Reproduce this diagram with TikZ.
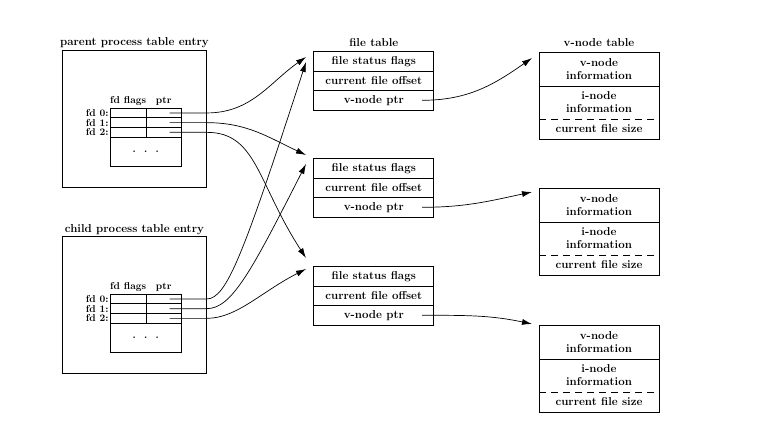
\documentclass[tikz,border=0pt]{standalone}
\usetikzlibrary{matrix,positioning,arrows.meta}

\begin{document}
\begin{tikzpicture}[x=1pt, y=1pt, line width=0.8pt,
      font=\fontsize{11.5}{13}\selectfont\bfseries,
      fdfont/.style={font=\fontsize{10}{11}\selectfont\bfseries},
      title/.style={anchor=base, inner sep=0pt},
      procbox/.style={draw, anchor=north west, minimum width=144pt, minimum height=137pt},
      fdtable/.style={matrix of nodes, nodes in empty cells, ampersand replacement=\&,
          anchor=south east, inner sep=0pt,
          row sep=-\pgflinewidth, column sep=-\pgflinewidth,
          nodes={draw, fdfont, anchor=center, minimum height=9.7pt, inner sep=0pt, outer sep=0pt},
          row 1/.style={nodes={draw=none, minimum height=14pt}},
          column 1/.style={nodes={draw=none, anchor=east, inner xsep=2pt}},
          column 2/.style={nodes={minimum width=36pt}},
          column 3/.style={nodes={minimum width=35pt}}},
      restbox/.style={draw, fdfont, anchor=north west, outer sep=0pt,
          minimum width=71pt, minimum height=29pt},
      filetable/.style={matrix of nodes, anchor=north west, inner sep=0pt,
          row sep=-\pgflinewidth,
          nodes={draw, anchor=center, minimum width=120pt, minimum height=19.4pt, inner sep=0pt}},
      vcell/.style={minimum width=120pt, inner sep=0pt, outer sep=0pt, align=center},
      ptr/.style={-{Latex[length=10pt,width=6pt]}, line width=0.7pt}]

  \useasboundingbox (0,0) rectangle (764,424);

  % process table entries
  \foreach \proc/\ytop in {parent/374, child/188} {
    \node[procbox] (\proc) at (62,\ytop) {};
    \node[title] at ([yshift=4pt]\proc.north) {\proc\ process table entry};
    \matrix (\proc fd) [fdtable] at ([shift={(120,-88)}]\proc.north west) {
        \& fd flags \& ptr \\
        fd 0: \& \& \\
        fd 1: \& \& \\
        fd 2: \& \& \\
    };
    \node[restbox] (\proc rest) at (\proc fd-4-2.south west) {.\hspace{8.3pt}.\hspace{8.3pt}.};
  }

  % file table
  \foreach \i/\ytop/\pdy/\cdy in {1/373/-6/-11, 2/266/3/-6, 3/158/8/-3} {
    \matrix (ft\i) [filetable] at (313,\ytop) {
        file status flags \\
        current file offset \\
        v-node ptr \\
    };
    \coordinate (ft\i p) at ([shift={(-7,\pdy)}]ft\i.north west);
    \coordinate (ft\i c) at ([shift={(-7,\cdy)}]ft\i.north west);
  }
  \node[title] at ([yshift=4pt]ft1.north) {file table};

  % v-node table
  \foreach \i/\ytop/\dy in {1/372/-6, 2/236/-4, 3/99/1} {
    \node[vcell, anchor=north west, minimum height=34pt] (vn\i a) at (539,\ytop) {v-node\\information};
    \node[vcell, minimum height=33pt, below=0pt of vn\i a] (vn\i b) {i-node\\information};
    \node[vcell, minimum height=20pt, below=0pt of vn\i b] (vn\i c) {current file size};
    \draw (vn\i a.north west) rectangle (vn\i c.south east);
    \draw (vn\i a.south west) -- (vn\i a.south east);
    \draw[dash pattern=on 7pt off 5pt] (vn\i b.south west) -- (vn\i b.south east);
    \coordinate (vn\i in) at ([shift={(-7,\dy)}]vn\i a.north west);
  }
  \node[title] at ([yshift=5pt]vn1a.north) {v-node table};

  % fd pointers
  \draw[ptr] ([xshift=6pt]parentfd-2-3.center) -- (parentfd-2-3 -| parent.east)
      to[out=0, in=215] (ft1p);
  \draw[ptr] ([xshift=6pt]parentfd-3-3.center) -- (parentfd-3-3 -| parent.east)
      to[out=0, in=155] (ft2p);
  \draw[ptr] ([xshift=6pt]parentfd-4-3.center) -- (parentfd-4-3 -| parent.east)
      to[out=0, in=123, out distance=50pt, in distance=90pt] (ft3p);
  \draw[ptr] ([xshift=6pt]childfd-2-3.center) -- (childfd-2-3 -| child.east)
      to[out=0, in=252, out distance=20pt, in distance=200pt] (ft1c);
  \draw[ptr] ([xshift=6pt]childfd-3-3.center) -- (childfd-3-3 -| child.east)
      to[out=0, in=243, out distance=25pt, in distance=120pt] (ft2c);
  \draw[ptr] ([xshift=6pt]childfd-4-3.center) -- (childfd-4-3 -| child.east)
      to[out=0, in=207, out distance=30pt, in distance=50pt] (ft3c);

  % v-node pointers
  \foreach \i/\ang in {1/215, 2/192, 3/168}
    \draw[ptr] ([xshift=-12pt]ft\i-3-1.east) to[out=0, in=\ang] (vn\i in);
\end{tikzpicture}
\end{document}
